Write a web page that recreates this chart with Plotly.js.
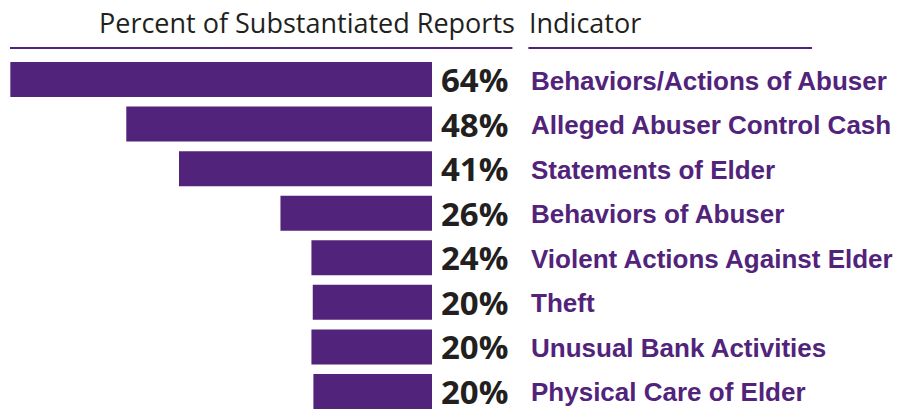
<!DOCTYPE html>
<html>
<head>
<meta charset="utf-8">
<script src="https://cdn.plot.ly/plotly-3.0.1.min.js"></script>
<style>html,body{margin:0;padding:0;background:#fff;}#chart{width:899px;height:409px;}</style>
</head>
<body>
<div id="chart"></div>
<script>
// Indicators, top to bottom
const indicators = [
  "Behaviors/Actions of Abuser",
  "Alleged Abuser Control Cash",
  "Statements of Elder",
  "Behaviors of Abuser",
  "Violent Actions Against Elder",
  "Theft",
  "Unusual Bank Activities",
  "Physical Care of Elder"
];
// Percent of substantiated reports (printed labels)
const percents = [64, 48, 41, 26, 24, 20, 20, 20];
// Drawn bar lengths as they appear in the graphic (same units, 64 = longest bar)
const barLength = [64, 46.4, 38.4, 23.0, 18.3, 18.1, 18.3, 18.0];
const headerLeft = "Percent of Substantiated Reports";
const headerRight = "Indicator";

const purple = "#52237B";
const dark = "#231F20";

const W = 899, H = 409;
const L = 10, R = W - 432.5, T = 57, B = 0;
const pw = W - L - R, ph = H - T - B;
const px = p => (p - L) / pw;          // pixel x -> paper x
const py = p => (H - B - p) / ph;      // pixel y -> paper y

const trace = {
  type: "bar",
  orientation: "h",
  y: indicators,
  x: barLength,
  marker: {color: purple, line: {width: 0}},
  width: 0.785,
  hoverinfo: "skip"
};

const annotations = [];
indicators.forEach((name, i) => {
  annotations.push({
    xref: "paper", yref: "y", x: px(440), y: name,
    xanchor: "left", yanchor: "middle", yshift: 0,
    text: "<b>" + percents[i] + "%</b>", showarrow: false,
    font: {family: "Open Sans", size: 33, color: dark}
  });
  annotations.push({
    xref: "paper", yref: "y", x: px(530), y: name,
    xanchor: "left", yanchor: "middle", yshift: -1,
    text: "<b>" + name + "</b>", showarrow: false,
    font: {family: "Liberation Sans", size: 26, color: purple}
  });
});
annotations.push({
  xref: "paper", yref: "paper", x: px(97), y: py(22), xanchor: "left", yanchor: "middle",
  text: headerLeft, showarrow: false,
  font: {family: "Open Sans", size: 27, color: dark}
});
annotations.push({
  xref: "paper", yref: "paper", x: px(528), y: py(22), xanchor: "left", yanchor: "middle",
  text: headerRight, showarrow: false,
  font: {family: "Open Sans", size: 27, color: dark}
});

const shapes = [
  {type: "line", xref: "paper", yref: "paper", x0: px(10), x1: px(513), y0: py(48), y1: py(48),
   line: {color: purple, width: 2}},
  {type: "line", xref: "paper", yref: "paper", x0: px(529), x1: px(813), y0: py(48), y1: py(48),
   line: {color: purple, width: 2}}
];

const layout = {
  width: W, height: H,
  margin: {l: L, r: R, t: T, b: B, pad: 0},
  paper_bgcolor: "#fff", plot_bgcolor: "#fff",
  showlegend: false,
  xaxis: {range: [64.05, 0], visible: false, fixedrange: true},
  yaxis: {type: "category", range: [7.393, -0.505], visible: false, fixedrange: true},
  annotations: annotations,
  shapes: shapes
};

Plotly.newPlot("chart", [trace], layout, {displayModeBar: false, staticPlot: true});
</script>
</body>
</html>
